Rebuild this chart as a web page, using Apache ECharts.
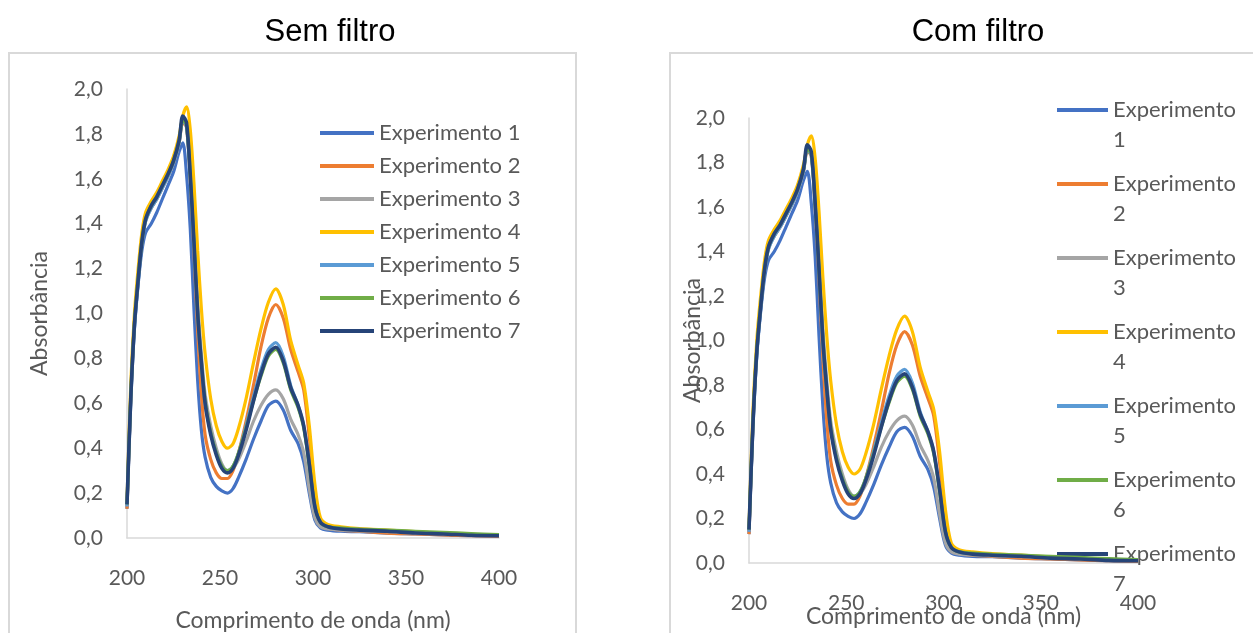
<!DOCTYPE html>
<html>
<head>
<meta charset="utf-8">
<title>Absorbância</title>
<script src="https://cdn.jsdelivr.net/npm/echarts@6/dist/echarts.min.js"></script>
<style>
    html, body { margin: 0; padding: 0; background: #fff; }
    #main { width: 1253px; height: 633px; }
</style>
</head>
<body>
<div id="main"></div>
<script>
// 波长 (nm)
var wavelengths = [200, 202, 204, 206, 208, 210, 213, 216, 219, 222, 225, 228, 230, 232, 234, 236, 238, 240, 242, 245,
    248, 251, 254, 257, 260, 264, 268, 272, 276, 280, 284, 288, 292, 295, 298, 301, 304, 308, 315, 325,
    340, 355, 370, 385, 400];

// 吸光度
var exp1 = [0.13, 0.60, 0.93, 1.13, 1.28, 1.36, 1.40, 1.45, 1.51, 1.57, 1.63, 1.72, 1.76, 1.62, 1.38, 1.02, 0.70, 0.48, 0.36, 0.27,
    0.23, 0.21, 0.20, 0.22, 0.27, 0.35, 0.44, 0.52, 0.59, 0.61, 0.57, 0.48, 0.42, 0.34, 0.20, 0.08, 0.045, 0.035, 0.03, 0.028,
    0.022, 0.018, 0.014, 0.01, 0.008];
var exp2 = [0.13, 0.62, 0.96, 1.16, 1.32, 1.42, 1.47, 1.51, 1.56, 1.61, 1.67, 1.76, 1.85, 1.83, 1.60, 1.28, 0.92, 0.64, 0.46, 0.35,
    0.29, 0.265, 0.265, 0.30, 0.38, 0.52, 0.68, 0.85, 0.98, 1.04, 0.98, 0.84, 0.74, 0.66, 0.45, 0.20, 0.07, 0.045, 0.035, 0.03,
    0.022, 0.018, 0.014, 0.01, 0.008];
var exp3 = [0.15, 0.62, 0.95, 1.15, 1.31, 1.41, 1.47, 1.51, 1.56, 1.61, 1.67, 1.76, 1.86, 1.84, 1.64, 1.36, 1.05, 0.82, 0.64, 0.50,
    0.40, 0.33, 0.30, 0.31, 0.35, 0.43, 0.52, 0.59, 0.64, 0.66, 0.62, 0.53, 0.46, 0.38, 0.22, 0.09, 0.05, 0.04, 0.035, 0.032,
    0.028, 0.022, 0.018, 0.014, 0.012];
var exp4 = [0.16, 0.68, 1.00, 1.20, 1.36, 1.45, 1.50, 1.54, 1.59, 1.64, 1.70, 1.79, 1.88, 1.92, 1.82, 1.58, 1.28, 1.02, 0.82, 0.62,
    0.50, 0.43, 0.40, 0.42, 0.49, 0.62, 0.78, 0.93, 1.05, 1.11, 1.04, 0.88, 0.77, 0.69, 0.50, 0.24, 0.09, 0.06, 0.05, 0.042,
    0.035, 0.028, 0.02, 0.016, 0.012];
var exp5 = [0.14, 0.61, 0.94, 1.14, 1.31, 1.41, 1.47, 1.51, 1.56, 1.61, 1.67, 1.76, 1.86, 1.83, 1.60, 1.30, 0.98, 0.77, 0.60, 0.47,
    0.38, 0.32, 0.30, 0.32, 0.38, 0.50, 0.63, 0.75, 0.84, 0.87, 0.81, 0.68, 0.59, 0.50, 0.33, 0.14, 0.07, 0.05, 0.042, 0.038,
    0.032, 0.027, 0.022, 0.016, 0.012];
var exp6 = [0.15, 0.63, 0.96, 1.16, 1.32, 1.42, 1.48, 1.52, 1.57, 1.62, 1.68, 1.77, 1.86, 1.84, 1.62, 1.32, 1.00, 0.78, 0.61, 0.47,
    0.38, 0.32, 0.30, 0.32, 0.38, 0.49, 0.61, 0.72, 0.81, 0.84, 0.78, 0.66, 0.58, 0.49, 0.32, 0.14, 0.07, 0.05, 0.045, 0.04,
    0.035, 0.03, 0.025, 0.02, 0.015];
var exp7 = [0.15, 0.62, 0.95, 1.15, 1.32, 1.42, 1.48, 1.52, 1.57, 1.62, 1.68, 1.77, 1.88, 1.85, 1.62, 1.32, 1.00, 0.78, 0.60, 0.46,
    0.37, 0.31, 0.29, 0.31, 0.37, 0.48, 0.61, 0.73, 0.82, 0.85, 0.79, 0.67, 0.59, 0.50, 0.33, 0.14, 0.07, 0.05, 0.04, 0.035,
    0.03, 0.022, 0.018, 0.012, 0.01];

var seriesNames = ['Experimento 1', 'Experimento 2', 'Experimento 3', 'Experimento 4',
    'Experimento 5', 'Experimento 6', 'Experimento 7'];
var seriesData = [exp1, exp2, exp3, exp4, exp5, exp6, exp7];
var seriesColors = ['#4472C4', '#ED7D31', '#A5A5A5', '#FFC000', '#5B9BD5', '#70AD47', '#264478'];
var chartTitles = ['Sem filtro', 'Com filtro'];

var myChart = echarts.init(document.getElementById('main'));

var labelFont = 'Lato, "Open Sans", sans-serif';
var grey = '#595959';

// 两个图的坐标轴
function makeXAxis(idx, gap) {
    return {
        gridIndex: idx,
        type: 'value',
        min: 200,
        max: 400,
        interval: 50,
        name: 'Comprimento de onda (nm)',
        nameLocation: 'middle',
        nameGap: gap,
        nameMoveOverlap: false,
        nameTextStyle: { color: grey, fontSize: 23, fontFamily: labelFont },
        axisLine: { show: true, lineStyle: { color: '#d9d9d9', width: 1.5 } },
        axisTick: { show: false },
        splitLine: { show: false },
        axisLabel: { color: grey, fontSize: 21, fontFamily: labelFont, margin: 30 }
    };
}

function makeYAxis(idx, gap) {
    return {
        gridIndex: idx,
        type: 'value',
        min: 0,
        max: 2,
        interval: 0.2,
        name: 'Absorbância',
        nameLocation: 'middle',
        nameGap: gap,
        nameMoveOverlap: false,
        nameTextStyle: { color: grey, fontSize: 23, fontFamily: labelFont },
        axisLine: { show: true, lineStyle: { color: '#d9d9d9', width: 1.5 } },
        axisTick: { show: false },
        splitLine: { show: false },
        axisLabel: {
            color: grey,
            fontSize: 21,
            fontFamily: labelFont,
            margin: 24,
            formatter: function (v) {
                return v.toFixed(1).replace('.', ',');
            }
        }
    };
}

var series = [];
[0, 1].forEach(function (g) {
    seriesNames.forEach(function (name, i) {
        series.push({
            name: name,
            type: 'line',
            xAxisIndex: g,
            yAxisIndex: g,
            symbol: 'none',
            smooth: 0.3,
            z: 2 + i,
            lineStyle: { width: i === 6 ? 3.6 : 3.2, color: seriesColors[i] },
            itemStyle: { color: seriesColors[i] },
            data: wavelengths.map(function (w, k) {
                return [w, seriesData[i][k]];
            })
        });
    });
});

var option = {
    animation: false,
    backgroundColor: '#fff',
    // 标题
    title: chartTitles.map(function (t, i) {
        return {
            text: t,
            left: i === 0 ? 330 : 978,
            top: 17,
            padding: 0,
            textAlign: 'center',
            textStyle: { fontFamily: '"Liberation Sans", Arial, sans-serif', fontSize: 31, fontWeight: 'normal', color: '#000' }
        };
    }),
    // 图例
    legend: [
        {
            orient: 'vertical',
            left: 320,
            top: 121,
            padding: 0,
            icon: 'rect',
            itemWidth: 54,
            itemHeight: 4,
            itemGap: 9,
            textStyle: { color: grey, fontSize: 22, fontFamily: labelFont, lineHeight: 24 },
            data: seriesNames
        },
        {
            // 右图图例：名称换行，第一行与线对齐
            orient: 'vertical',
            left: 1057,
            top: 65,
            padding: 0,
            icon: 'rect',
            itemWidth: 51,
            itemHeight: 4,
            itemGap: -16,
            formatter: function (name) {
                return '\u00a0\n' + name.replace(' ', '\n');
            },
            textStyle: { color: grey, fontSize: 22, fontFamily: labelFont, lineHeight: 30 },
            data: seriesNames
        }
    ],
    grid: [
        { left: 127, top: 89, width: 372, height: 449, outerBoundsMode: 'none' },
        { left: 749, top: 118, width: 389, height: 445, outerBoundsMode: 'none' }
    ],
    xAxis: [makeXAxis(0, 71), makeXAxis(1, 42)],
    yAxis: [makeYAxis(0, 76), makeYAxis(1, 45)],
    // 图表外框
    graphic: [
        { type: 'rect', silent: true, z: -10, shape: { x: 9, y: 53, width: 567, height: 620 }, style: { fill: 'none', stroke: '#d9d9d9', lineWidth: 2 } },
        { type: 'rect', silent: true, z: -10, shape: { x: 670, y: 53, width: 640, height: 620 }, style: { fill: 'none', stroke: '#d9d9d9', lineWidth: 2 } }
    ],
    series: series
};

myChart.setOption(option);
</script>
</body>
</html>
